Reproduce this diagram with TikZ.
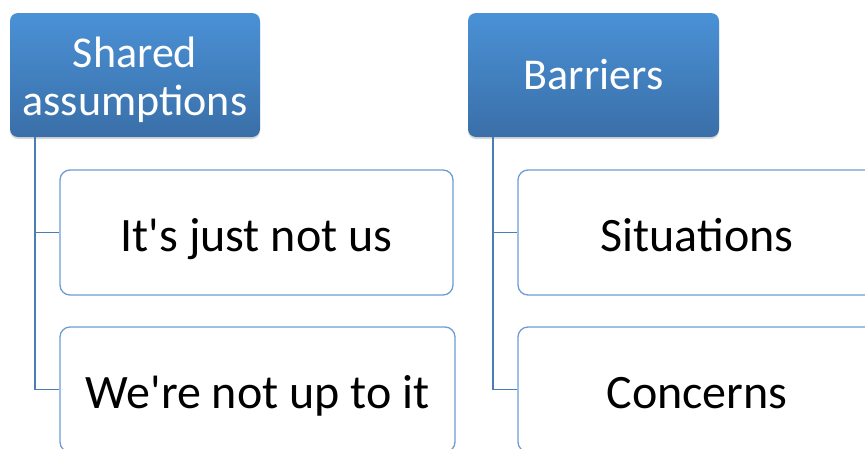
\documentclass[tikz,border=0pt]{standalone}
\usepackage{fontspec}
\setmainfont{Carlito}
\usetikzlibrary{shadows}
\definecolor{hdrtop}{HTML}{4A91D6}
\definecolor{hdrbot}{HTML}{3A6FA8}
\definecolor{kidline}{HTML}{6E9CD2}
\definecolor{linkcol}{HTML}{4A7CB6}
\tikzset{
    hdrbox/.style={rectangle, rounded corners=8pt, top color=hdrtop, bottom color=hdrbot,
        draw=none, text=white, align=center, minimum width=250pt, minimum height=124pt,
        inner sep=0pt, font=\fontsize{44}{48}\selectfont,
        drop shadow={opacity=0.3, shadow xshift=0pt, shadow yshift=-2pt}},
    kidbox/.style={rectangle, rounded corners=10pt, draw=kidline, line width=1.3pt, fill=white,
        text=black, minimum height=125pt, inner sep=0pt, text height=46pt, text depth=8pt,
        font=\fontsize{48}{54}\selectfont},
    link/.style={draw=linkcol, line width=1.4pt}
}
\begin{document}
\begin{tikzpicture}[x=1pt, y=-1pt]
    \useasboundingbox (0,0) rectangle (865,448);
    \clip (0,0) rectangle (865,448);
    % headers
    \node[hdrbox] (shared) at (135,75) {\rule{0pt}{40pt}Shared\\assumptions};
    \node[hdrbox, minimum width=251pt] (barriers) at (593.5,75) {Barriers};
    % children
    \node[kidbox, minimum width=393pt] (notus) at (256.5,232.5) {It\textquotesingle s just not us};
    \node[kidbox, minimum width=395pt] (upto) at (257.5,389.5) {We\textquotesingle re not up to it};
    \node[kidbox, minimum width=358pt] (situ) at (697,232.5) {Situations};
    \node[kidbox, minimum width=358pt] (conc) at (697,389.5) {Concerns};
    % stems
    \coordinate (stemA) at ([xshift=25pt]shared.south west);
    \coordinate (stemB) at ([xshift=25pt]barriers.south west);
    \draw[link] (stemA) |- (notus.west);
    \draw[link] (stemA) |- (upto.west);
    \draw[link] (stemB) |- (situ.west);
    \draw[link] (stemB) |- (conc.west);
\end{tikzpicture}
\end{document}
